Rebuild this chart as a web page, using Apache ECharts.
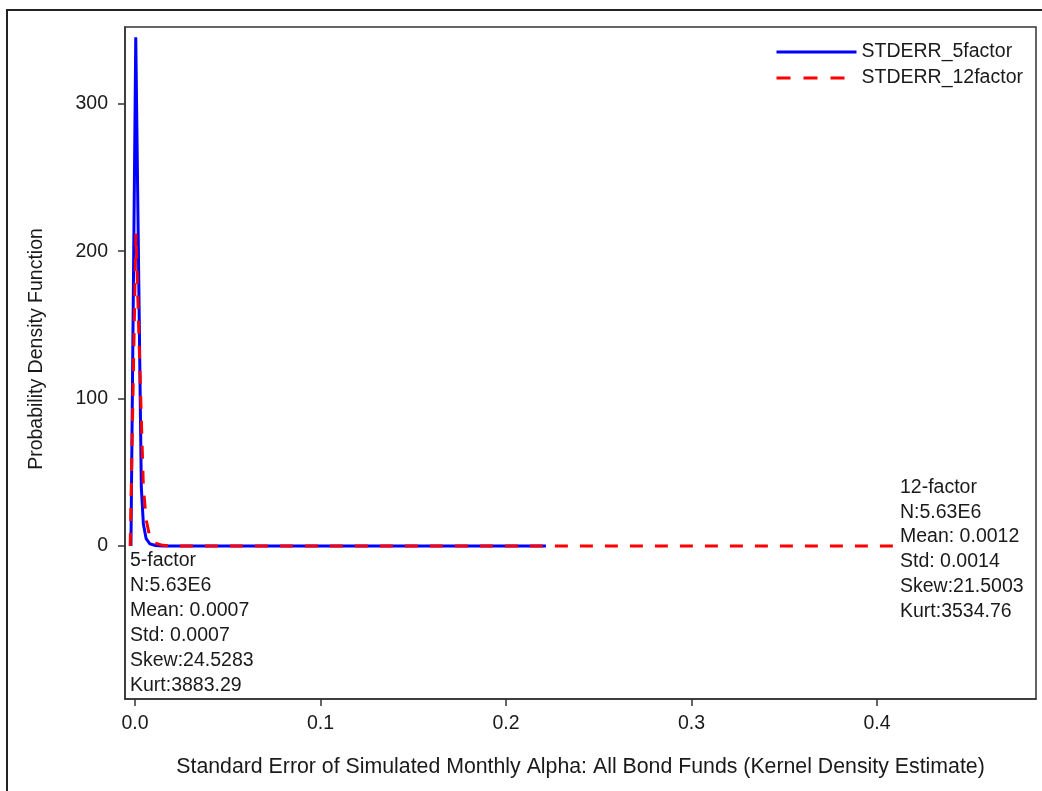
<!DOCTYPE html>
<html>
<head>
<meta charset="utf-8">
<script src="https://cdn.jsdelivr.net/npm/echarts@6/dist/echarts.min.js"></script>
<style>
  html, body { margin: 0; padding: 0; background: #fff; }
  #chart { width: 1042px; height: 791px; }
</style>
</head>
<body>
<div id="chart"></div>
<script>
// Kernel density estimates of the standard error of monthly alpha, [x, density]
const seriesNames = ['STDERR_5factor', 'STDERR_12factor'];
const density5 = [
  [-0.0022, 0], [0.0004, 345], [0.0034, 40], [0.0045, 15], [0.006, 5],
  [0.008, 1.5], [0.011, 0.4], [0.015, 0], [0.2215, 0]
];
const density12 = [
  [-0.0026, 0], [0.0005, 212], [0.0045, 40], [0.006, 18], [0.008, 6],
  [0.011, 2], [0.015, 0.5], [0.02, 0], [0.41, 0]
];
const xTicks = [0, 0.1, 0.2, 0.3, 0.4];
const yTicks = [0, 100, 200, 300];
const stats5 = ['5-factor', 'N:5.63E6', 'Mean: 0.0007', 'Std: 0.0007', 'Skew:24.5283', 'Kurt:3883.29'];
const stats12 = ['12-factor', 'N:5.63E6', 'Mean: 0.0012', 'Std: 0.0014', 'Skew:21.5003', 'Kurt:3534.76'];
const xTitle = 'Standard Error of Simulated Monthly Alpha: All Bond Funds (Kernel Density Estimate)';
const yTitle = 'Probability Density Function';

const FONT = '"Liberation Sans", Arial, sans-serif';
const TXT = '#1a1a1a';
const LABEL_SIZE = 19.5;

const chart = echarts.init(document.getElementById('chart'), null, { renderer: 'canvas' });

chart.setOption({
  animation: false,
  backgroundColor: '#fff',
  textStyle: { fontFamily: FONT },
  grid: {
    left: 125, top: 27, right: 6, bottom: 92,
    show: true, borderColor: '#333', borderWidth: 1.5, backgroundColor: 'transparent'
  },
  legend: {
    orient: 'vertical',
    left: 770, top: 37,
    itemWidth: 80, itemHeight: 14, itemGap: 6,
    itemStyle: { opacity: 0 },
    lineStyle: { width: 3 },
    textStyle: { fontSize: LABEL_SIZE, color: TXT, fontFamily: FONT, padding: [0, 0, 0, 0] },
    data: [
      { name: seriesNames[0] },
      { name: seriesNames[1], lineStyle: { type: [14, 13], width: 3 } }
    ]
  },
  xAxis: {
    type: 'value',
    min: -0.0054, max: 0.4857,
    splitLine: { show: false },
    axisLine: { show: true, onZero: false, lineStyle: { color: '#333', width: 1.5 } },
    axisTick: { show: true, length: 7, customValues: xTicks, lineStyle: { color: '#333', width: 1.5 } },
    axisLabel: {
      customValues: xTicks, margin: 15, fontSize: LABEL_SIZE, color: TXT, fontFamily: FONT,
      formatter: v => v.toFixed(1)
    },
    name: xTitle,
    nameLocation: 'middle', nameGap: 58,
    nameTextStyle: { fontSize: 21.3, color: TXT, fontFamily: FONT }
  },
  yAxis: {
    type: 'value',
    min: -103.7, max: 352,
    splitLine: { show: false },
    axisLine: { show: true, onZero: false, lineStyle: { color: '#333', width: 1.5 } },
    axisTick: { show: true, length: 7, customValues: yTicks, lineStyle: { color: '#333', width: 1.5 } },
    axisLabel: { customValues: yTicks, margin: 17, fontSize: LABEL_SIZE, color: TXT, fontFamily: FONT }
  },
  series: [
    {
      name: seriesNames[0], type: 'line', data: density5,
      symbol: 'none', smooth: false,
      lineStyle: { color: '#0000ff', width: 3 },
      itemStyle: { color: '#0000ff' }
    },
    {
      name: seriesNames[1], type: 'line', data: density12,
      symbol: 'none', smooth: false,
      lineStyle: { color: '#ff0000', width: 3, type: [13, 12] },
      itemStyle: { color: '#ff0000' }
    }
  ],
  graphic: [
    // outer frame of the graph
    {
      type: 'rect', silent: true, z: 100,
      shape: { x: 7, y: 10, width: 1200, height: 1000 },
      style: { fill: 'none', stroke: '#222', lineWidth: 2 }
    },
    {
      type: 'text', x: 37, y: 349, rotation: Math.PI / 2,
      style: { text: yTitle, fontSize: 19.5, fill: TXT, fontFamily: FONT, align: 'center', verticalAlign: 'middle' }
    },
    {
      type: 'text', x: 130, y: 548,
      style: { text: stats5.join('\n'), fontSize: LABEL_SIZE, lineHeight: 25, fill: TXT, fontFamily: FONT }
    },
    {
      type: 'text', x: 900, y: 475,
      style: { text: stats12.join('\n'), fontSize: LABEL_SIZE, lineHeight: 24.8, fill: TXT, fontFamily: FONT }
    }
  ]
});
</script>
</body>
</html>
